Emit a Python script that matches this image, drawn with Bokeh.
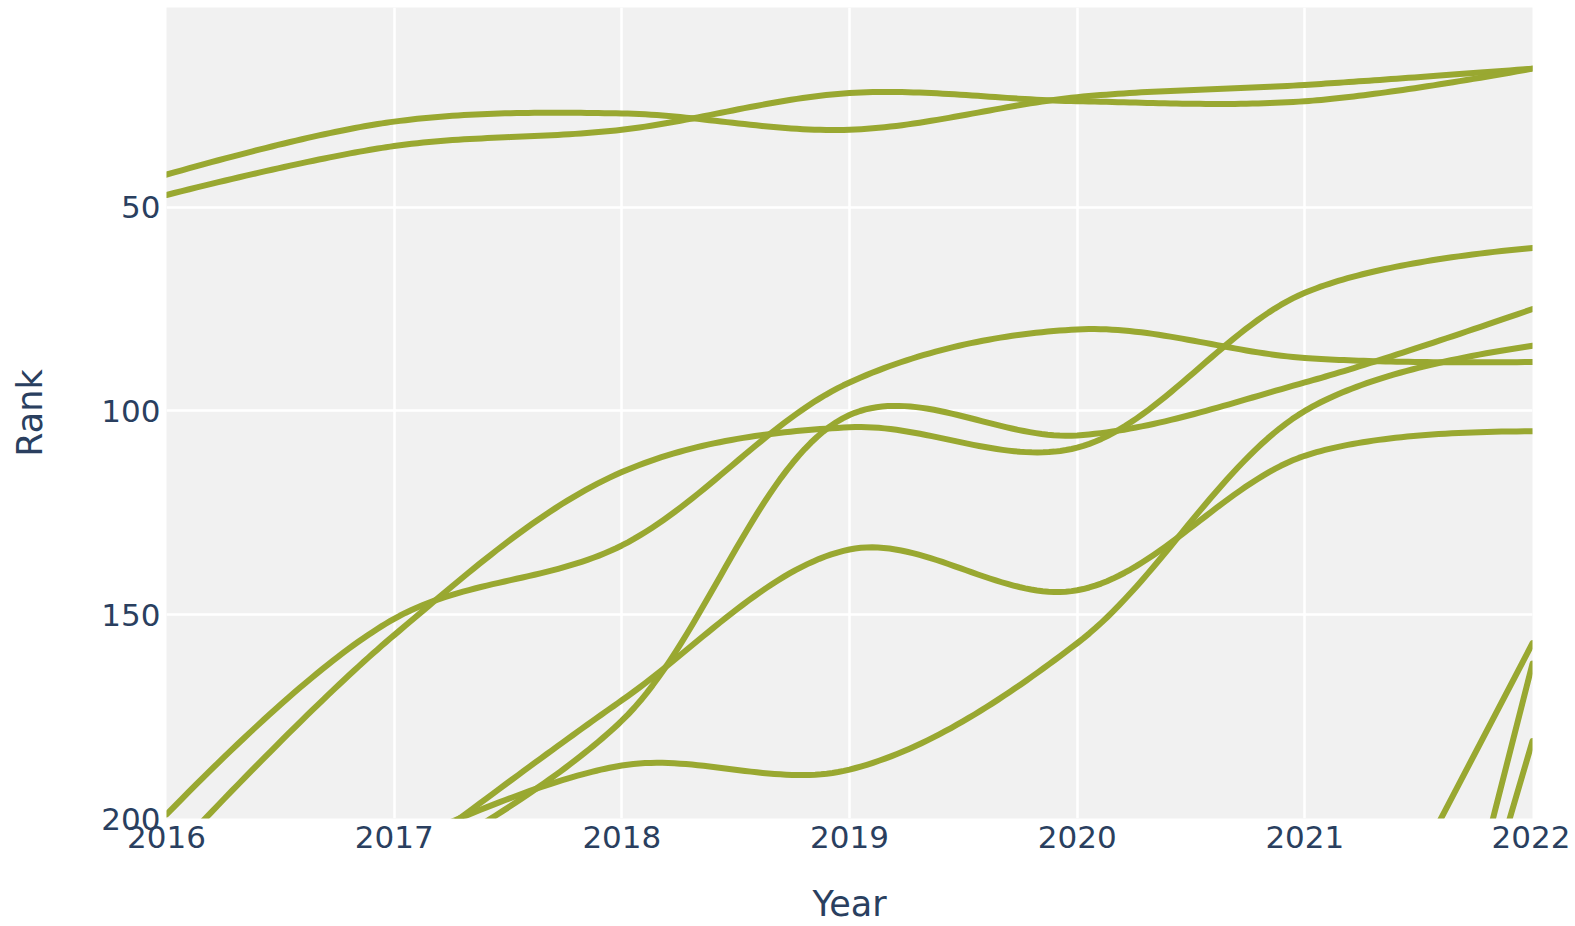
import numpy as np
from bokeh.plotting import figure
from bokeh.models import Range1d, FixedTicker
from bokeh.embed import file_html
from bokeh.resources import INLINE

# ---------------- data ----------------
years = [2016, 2017, 2018, 2019, 2020, 2021, 2022]
nan = float("nan")
rank_a = [42, 29, 27, 31, 23, 20, 16]
rank_b = [47, 35, 31, 22, 24, 24, 16]
rank_c = [nan, 214, 176, 101, 106, 93, 75]
rank_d = [199, 151, 133, 93, 80, 87, 88]
rank_e = [210, 155, 115, 104, 109, 71, 60]
rank_f = [nan, 207, 187, 188, 157, 100, 84]
rank_g = [nan, 212, 171, 134, 144, 111, 105]
rank_h = [nan, nan, nan, nan, nan, 264, 157]
rank_i = [nan, nan, nan, nan, nan, 381, 162]
rank_j = [nan, nan, nan, nan, nan, 371, 181]
series = [rank_a, rank_b, rank_c, rank_d, rank_e, rank_f, rank_g, rank_h, rank_i, rank_j]

y_ticks = [50, 100, 150, 200]
LINE_COLOR = "#99a831"
TEXT_COLOR = "#2a3f5f"
FONT = "DejaVu Sans"

# ---------------- figure ----------------
W, H = 1570, 926
ML, MR, MT, MB = 166, 38, 7, 108
FW, FH = W - ML - MR, H - MT - MB
X0, X1 = 2016, 2022
Y0, Y1 = 200, 1
SX = FW / (X1 - X0)
SY = FH / (Y0 - Y1)


def tangent(p0, p1, p2, s=1.0):
    d1 = p0 - p1
    d2 = p2 - p1
    d1a = (d1 @ d1) ** 0.25
    d2a = (d2 @ d2) ** 0.25
    num = (d2a ** 2 * d1 - d1a ** 2 * d2) * s
    den1 = 3 * d2a * (d1a + d2a)
    den2 = 3 * d1a * (d1a + d2a)
    a = p1 + (num / den1 if den1 else 0)
    b = p1 - (num / den2 if den2 else 0)
    return a, b


def quad(p0, c, p1, n=40):
    t = np.linspace(0, 1, n)[:, None]
    return (1 - t) ** 2 * p0 + 2 * (1 - t) * t * c + t ** 2 * p1


def cubic(p0, c0, c1, p1, n=40):
    t = np.linspace(0, 1, n)[:, None]
    return (1 - t) ** 3 * p0 + 3 * (1 - t) ** 2 * t * c0 + 3 * (1 - t) * t ** 2 * c1 + t ** 3 * p1


def spline(xs, ys):
    pts = [np.array([x * SX, y * SY]) for x, y in zip(xs, ys)]
    if len(pts) < 3:
        out = np.array(pts)
    else:
        tans = [tangent(pts[i - 1], pts[i], pts[i + 1]) for i in range(1, len(pts) - 1)]
        segs = [quad(pts[0], tans[0][0], pts[1])]
        for i in range(2, len(pts) - 1):
            segs.append(cubic(pts[i - 1], tans[i - 2][1], tans[i - 1][0], pts[i]))
        segs.append(quad(pts[-2], tans[-1][1], pts[-1]))
        out = np.vstack(segs)
    return out[:, 0] / SX, out[:, 1] / SY


p = figure(width=W, height=H, x_range=Range1d(X0, X1), y_range=Range1d(Y0, Y1),
           output_backend="svg", toolbar_location=None,
           background_fill_color="#f1f1f1", border_fill_color="white",
           outline_line_color=None,
           min_border_left=ML, min_border_right=MR, min_border_top=MT, min_border_bottom=MB)

for s in series:
    runs, cur = [], []
    for x, y in zip(years, s):
        if np.isnan(y):
            if cur:
                runs.append(cur)
            cur = []
        else:
            cur.append((x, y))
    if cur:
        runs.append(cur)
    for r in runs:
        xs, ys = spline([q[0] for q in r], [q[1] for q in r])
        p.line(xs, ys, line_color=LINE_COLOR, line_width=6, line_join="round", line_cap="round")

p.xaxis.ticker = FixedTicker(ticks=years)
p.yaxis.ticker = FixedTicker(ticks=y_ticks)
p.xgrid.ticker = FixedTicker(ticks=years)
p.ygrid.ticker = FixedTicker(ticks=[50, 100, 150])
for g in (p.xgrid, p.ygrid):
    g.grid_line_color = "white"
    g.grid_line_width = 2.5

for ax in (p.xaxis, p.yaxis):
    ax.axis_line_color = None
    ax.major_tick_line_color = None
    ax.minor_tick_line_color = None
    ax.major_label_text_font = FONT
    ax.major_label_text_font_size = "31px"
    ax.major_label_text_color = TEXT_COLOR
    ax.axis_label_text_font = FONT
    ax.axis_label_text_font_size = "35px"
    ax.axis_label_text_font_style = "normal"
    ax.axis_label_text_color = TEXT_COLOR

p.xaxis.axis_label = "Year"
p.yaxis.axis_label = "Rank"
p.xaxis.major_label_standoff = 1
p.yaxis.major_label_standoff = 0
p.xaxis.axis_label_standoff = 33
p.yaxis.axis_label_standoff = 48

open("out.html", "w").write(file_html(p, INLINE))
